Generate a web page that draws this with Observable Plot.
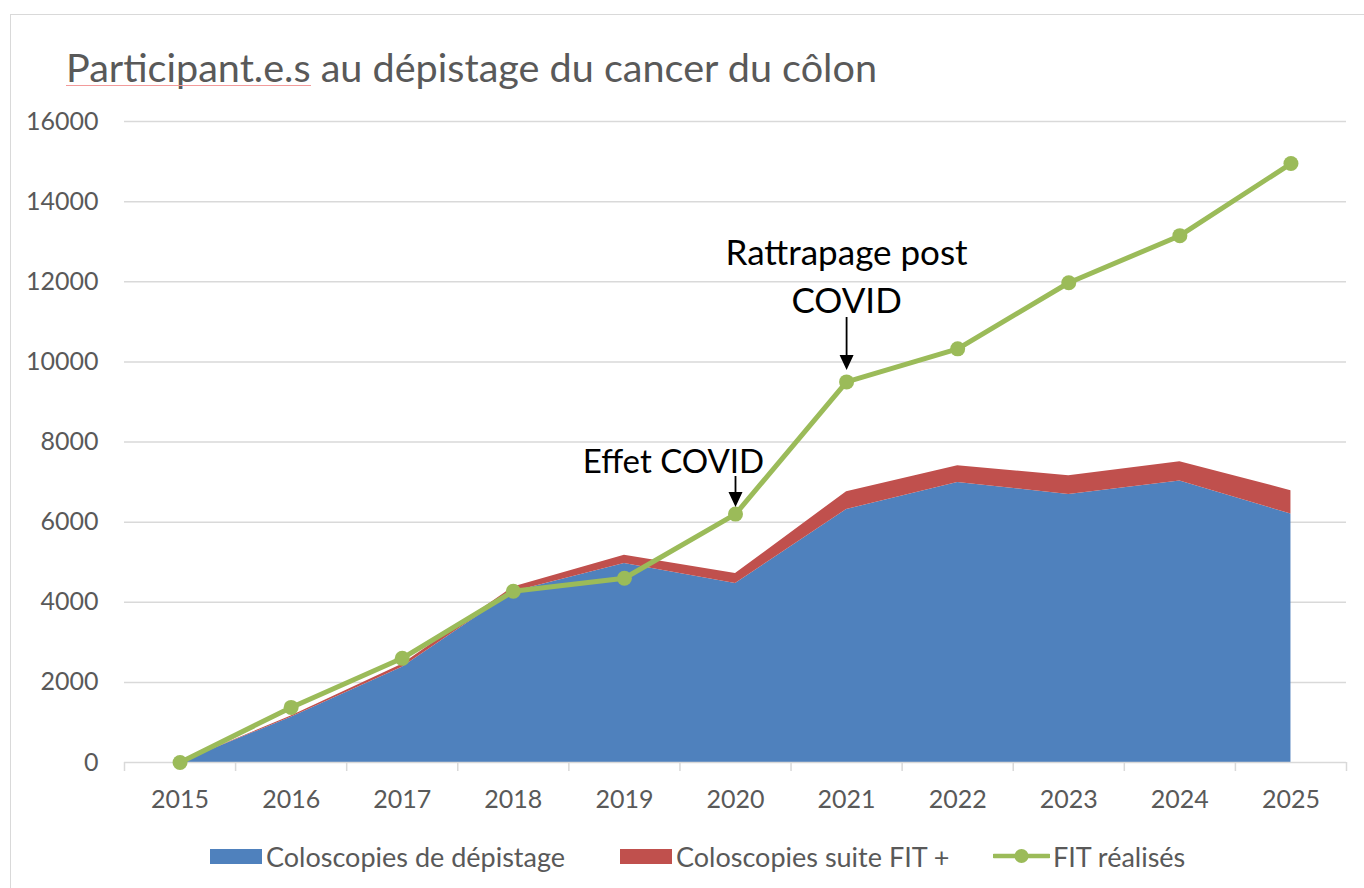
<!DOCTYPE html>
<html><head><meta charset="utf-8">
<script src="https://cdn.jsdelivr.net/npm/d3@7"></script>
<script src="https://cdn.jsdelivr.net/npm/@observablehq/plot@0.6"></script>
<style>
body{margin:0;background:#fff;}
#page{position:relative;width:1364px;height:888px;overflow:hidden;background:#fff;font-family:Lato,"Open Sans",sans-serif;}
#border{position:absolute;left:10px;top:14px;width:1400px;height:900px;border:1.5px solid #d9d9d9;box-sizing:border-box}
#title{position:absolute;left:66px;top:44px;font-size:39.6px;line-height:46px;color:#595959;white-space:nowrap}
#title .sp{position:relative;display:inline-block}
#title .sp::after{content:"";position:absolute;left:0;right:0;top:41px;height:1.2px;background:#f29a9a}
#chart{position:absolute;left:0;top:100px}
.leg{position:absolute;top:841px;height:30px;display:flex;align-items:center;font-size:27px;color:#595959;white-space:nowrap}
</style></head>
<body>
<div id="page">
<div id="border"></div>
<div id="title"><span class="sp">Participant.e.s</span> au dépistage du cancer du côlon</div>
<div id="chart"></div>
<div id="legend"></div>
</div>
<script>
// ---- data ----
const years = [2015, 2016, 2017, 2018, 2019, 2020, 2021, 2022, 2023, 2024, 2025];
const coloscopiesDepistage = [0, 1130, 2380, 4260, 4965, 4465, 6315, 6990, 6690, 7025, 6200];
const coloscopiesSuiteFIT = [0, 30, 70, 120, 210, 250, 445, 420, 468, 485, 585];
const fitRealises = [0, 1375, 2600, 4275, 4600, 6200, 9500, 10325, 11975, 13150, 14950];
const seriesNames = ["Coloscopies de dépistage", "Coloscopies suite FIT +", "FIT réalisés"];
const seriesColors = ["#4f81bd", "#c0504d", "#9bbb59"];
const yTicks = [0, 2000, 4000, 6000, 8000, 10000, 12000, 14000, 16000];
const annotationYears = [2020, 2021];
const annotationLabels = ["Effet COVID", "Rattrapage post\nCOVID"];

// ---- derived tables ----
const stacked = [];
years.forEach((y, i) => {
  stacked.push({year: y, series: seriesNames[0], value: coloscopiesDepistage[i]});
  stacked.push({year: y, series: seriesNames[1], value: coloscopiesSuiteFIT[i]});
});
const fitRows = years.map((y, i) => ({year: y, value: fitRealises[i]}));
const annRows = annotationYears.map((y, k) => ({year: y, value: fitRealises[years.indexOf(y)], label: annotationLabels[k]}));
const bounds = [years[0] - 0.5, ...years.map(y => y + 0.5)];

// downward arrow symbol: shaft from -top to head, filled triangle head with tip at -gap
function arrowSymbol(top, gap) {
  const hw = 7, hh = 15, sw = 0.9;
  return {
    draw(ctx) {
      ctx.moveTo(-sw, -top);
      ctx.lineTo(sw, -top);
      ctx.lineTo(sw, -gap - hh + 1);
      ctx.lineTo(-sw, -gap - hh + 1);
      ctx.closePath();
      ctx.moveTo(-hw, -gap - hh);
      ctx.lineTo(hw, -gap - hh);
      ctx.lineTo(0, -gap);
      ctx.closePath();
    }
  };
}

const chart = Plot.plot({
  width: 1364,
  height: 730,
  marginTop: 21,
  marginBottom: 68,
  marginLeft: 124,
  marginRight: 18,
  style: {fontFamily: "Lato, 'Open Sans', sans-serif", fontSize: "24px", color: "#595959", background: "transparent", overflow: "visible"},
  x: {type: "linear", domain: [years[0] - 0.5, years[years.length - 1] + 0.5], axis: null},
  y: {domain: [0, 16000], axis: null},
  color: {domain: seriesNames.slice(0, 2), range: seriesColors.slice(0, 2)},
  marks: [
    Plot.gridY(yTicks.filter(d => d > 0), {stroke: "#d9d9d9", strokeOpacity: 1, strokeWidth: 1.5}),
    Plot.areaY(stacked, {x: "year", y: "value", fill: "series", z: "series"}),
    Plot.ruleY([0], {stroke: "#d9d9d9", strokeWidth: 1.5}),
    Plot.axisX(bounds, {tickSize: 9, tickFormat: () => "", label: null, stroke: "#d9d9d9", strokeWidth: 1.5, strokeOpacity: 1}),
    Plot.axisX(years, {tickSize: 0, tickPadding: 28, tickFormat: d => String(d), label: null, fontSize: 25, fill: "#595959"}),
    Plot.axisY(yTicks, {tickSize: 0, tickPadding: 26, tickFormat: d => String(d), label: null, fontSize: 25, fill: "#595959"}),
    Plot.lineY(fitRows, {x: "year", y: "value", stroke: seriesColors[2], strokeWidth: 5, strokeLinejoin: "round"}),
    Plot.dot(fitRows, {x: "year", y: "value", r: 7.5, fill: seriesColors[2]}),
    Plot.text([annRows[0]], {x: "year", y: "value", text: "label", dx: -62, dy: -41, lineAnchor: "bottom", fontSize: 33, fill: "#000"}),
    Plot.text([annRows[1]], {x: "year", y: "value", text: "label", dx: 0, dy: -69, lineAnchor: "bottom", lineHeight: 1.36, fontSize: 35, fill: "#000"}),
    Plot.dot([annRows[0]], {x: "year", y: "value", r: 1, fill: "#000", symbol: arrowSymbol(38, 7)}),
    Plot.dot([annRows[1]], {x: "year", y: "value", r: 1, fill: "#000", symbol: arrowSymbol(65, 12)})
  ]
});
document.getElementById("chart").appendChild(chart);

// ---- legend ----
const legend = document.getElementById("legend");
const legLefts = [210, 620, 993];
seriesNames.forEach((name, i) => {
  const item = document.createElement("div");
  item.className = "leg";
  item.style.left = legLefts[i] + "px";
  let sw;
  if (i < 2) {
    sw = `<span style="display:inline-block;width:52px;height:15px;background:${seriesColors[i]};margin-right:4px"></span>`;
  } else {
    sw = `<svg width="57" height="16" style="margin-right:3px"><line x1="1" x2="56" y1="8" y2="8" stroke="${seriesColors[i]}" stroke-width="4.5" stroke-linecap="round"/><circle cx="28.5" cy="8" r="7" fill="${seriesColors[i]}"/></svg>`;
  }
  item.innerHTML = sw + `<span>${name}</span>`;
  legend.appendChild(item);
});
</script>
</body></html>
